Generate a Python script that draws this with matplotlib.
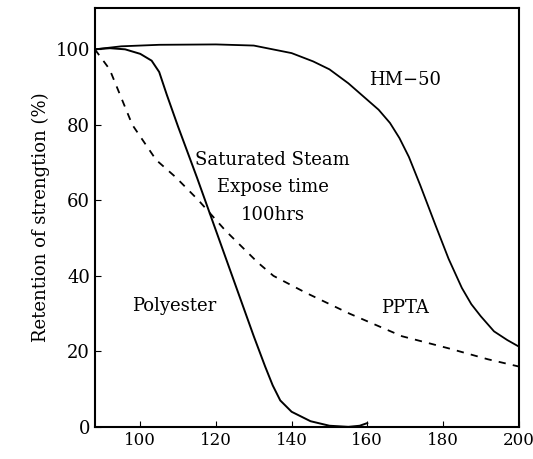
import matplotlib.pyplot as plt

# Retention of strength after 100 hrs in saturated steam
hm50_temp = [88, 95, 105, 120, 130, 140, 145.7, 150, 155, 159, 163, 166, 168.5, 171, 174, 178,
             181.5, 185, 187.5, 190, 193.5, 197, 200]
hm50_ret = [100, 100.8, 101.2, 101.3, 101, 99, 96.8, 94.7, 91, 87.5, 84, 80.5, 76.5, 71.5, 64, 53.5,
            44.5, 36.8, 32.5, 29.3, 25.3, 23, 21.3]

poly_temp = [88, 92, 96, 100, 103, 105, 107, 110, 115, 120, 125, 130, 133, 135, 137, 140, 145, 150, 155, 158, 160]
poly_ret = [100, 100.3, 100, 98.8, 97, 94, 88, 79.5, 66, 52, 38, 24, 16, 11, 7, 4, 1.5, 0.3, 0, 0.3, 1]

ppta_temp = [88, 91.9, 97.9, 104.2, 109.4, 115.4, 122.5, 131.1, 135.2, 143.8, 155.3, 169.2, 181.5, 191.9, 200]
ppta_ret = [100, 94.7, 80, 70.7, 66.1, 60, 52, 43.5, 40, 35.5, 30, 24, 20.8, 17.9, 16]

xticks = [100, 120, 140, 160, 180, 200]
yticks = [0, 20, 40, 60, 80, 100]

plt.rcParams['font.family'] = ['DejaVu Serif']

fig = plt.figure(figsize=(5.33, 4.59), dpi=100)
ax = fig.add_axes([0.178, 0.070, 0.795, 0.913])

ax.plot(hm50_temp, hm50_ret, color='black', lw=1.3)
ax.plot(poly_temp, poly_ret, color='black', lw=1.4)
ax.plot(ppta_temp, ppta_ret, color='black', lw=1.3, linestyle=(0, (4, 4)))

ax.text(170, 92, 'HM\u221250', fontsize=13, ha='center', va='center')
ax.text(135, 70.7, 'Saturated Steam', fontsize=13, ha='center', va='center')
ax.text(135, 63.5, 'Expose time', fontsize=13, ha='center', va='center')
ax.text(135, 56, '100hrs', fontsize=13, ha='center', va='center')
ax.text(109, 32, 'Polyester', fontsize=13, ha='center', va='center')
ax.text(170, 31.5, 'PPTA', fontsize=13, ha='center', va='center')

ax.set_xlim(88, 200)
ax.set_ylim(0, 111)
ax.set_xticks(xticks)
ax.set_yticks(yticks)
ax.tick_params(direction='in', length=4, labelsize=13)
ax.tick_params(axis='x', labelsize=12)
ax.set_ylabel('Retention of strengtion (%)', fontsize=13)
for s in ax.spines.values():
    s.set_linewidth(1.5)

fig.savefig('out.png', dpi=100)
